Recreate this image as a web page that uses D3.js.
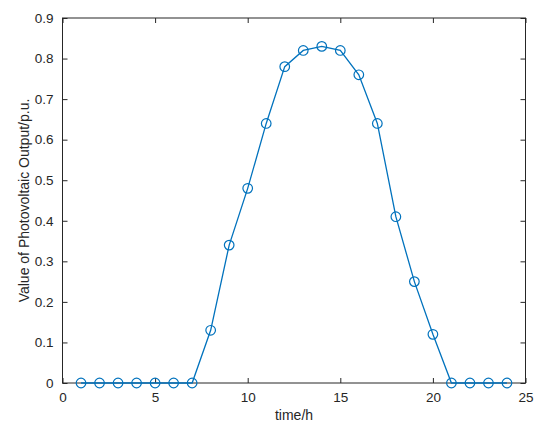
<!DOCTYPE html>
<html><head><meta charset="utf-8">
<script src="https://cdn.jsdelivr.net/npm/d3@7"></script>
<style>body{margin:0;background:#fff}</style>
</head><body>
<svg id="c" width="550" height="435"></svg>
<script>
const hours = [1,2,3,4,5,6,7,8,9,10,11,12,13,14,15,16,17,18,19,20,21,22,23,24];
const output = [0,0,0,0,0,0,0,0.13,0.34,0.48,0.64,0.78,0.82,0.83,0.82,0.76,0.64,0.41,0.25,0.12,0,0,0,0];
const xTicks = [0,5,10,15,20,25];
const yTicks = [0,0.1,0.2,0.3,0.4,0.5,0.6,0.7,0.8,0.9];
const xLabel = "time/h";
const yLabel = "Value of Photovoltaic Output/p.u.";

const svg = d3.select("#c");
const L = 62.5, R = 525.5, T = 18, B = 383;
const x = d3.scaleLinear().domain([0,25]).range([L,R]);
const y = d3.scaleLinear().domain([0,0.9]).range([B,T]);
const axCol = "#262626";
const font = "Liberation Sans, Arial, sans-serif";

function styleAxis(g){
  g.select(".domain").remove();
  g.selectAll(".tick line").attr("stroke", axCol).attr("stroke-width", 1);
  g.selectAll(".tick text").attr("fill", axCol).style("font-family", font).style("font-size", "13.5px");
}
const fmt = d => d===0 ? "0" : d3.format(".1f")(d);
svg.append("g").attr("transform",`translate(0,${B})`)
  .call(d3.axisBottom(x).tickValues(xTicks).tickSize(-5).tickPadding(9).tickFormat(d3.format("d"))).call(styleAxis);
svg.append("g").attr("transform",`translate(0,${T})`)
  .call(d3.axisTop(x).tickValues(xTicks).tickSize(-5).tickFormat("")).call(styleAxis);
svg.append("g").attr("transform",`translate(${L},0)`)
  .call(d3.axisLeft(y).tickValues(yTicks).tickSize(-5).tickPadding(9).tickFormat(fmt)).call(styleAxis);
svg.append("g").attr("transform",`translate(${R},0)`)
  .call(d3.axisRight(y).tickValues(yTicks).tickSize(-5).tickFormat("")).call(styleAxis);
svg.append("rect").attr("x",L).attr("y",T).attr("width",R-L).attr("height",B-T)
  .attr("fill","none").attr("stroke",axCol).attr("stroke-width",1);

const data = hours.map((h,i)=>({h, v: output[i]}));
const col = "#0072BD";
svg.append("path").datum(data)
  .attr("d", d3.line().x(d=>x(d.h)).y(d=>y(d.v)))
  .attr("fill","none").attr("stroke",col).attr("stroke-width",1.3);
svg.selectAll("circle.m").data(data).join("circle")
  .attr("cx",d=>x(d.h)).attr("cy",d=>y(d.v)).attr("r",4.8)
  .attr("fill","none").attr("stroke",col).attr("stroke-width",1.2);

svg.append("text").attr("x",(L+R)/2).attr("y",420).attr("text-anchor","middle")
  .style("font-family",font).style("font-size","14px").attr("fill",axCol).text(xLabel);
svg.append("text").attr("transform",`translate(29,${(T+B)/2}) rotate(-90)`).attr("text-anchor","middle")
  .style("font-family",font).style("font-size","14px").attr("fill",axCol).text(yLabel);
</script>
</body></html>
